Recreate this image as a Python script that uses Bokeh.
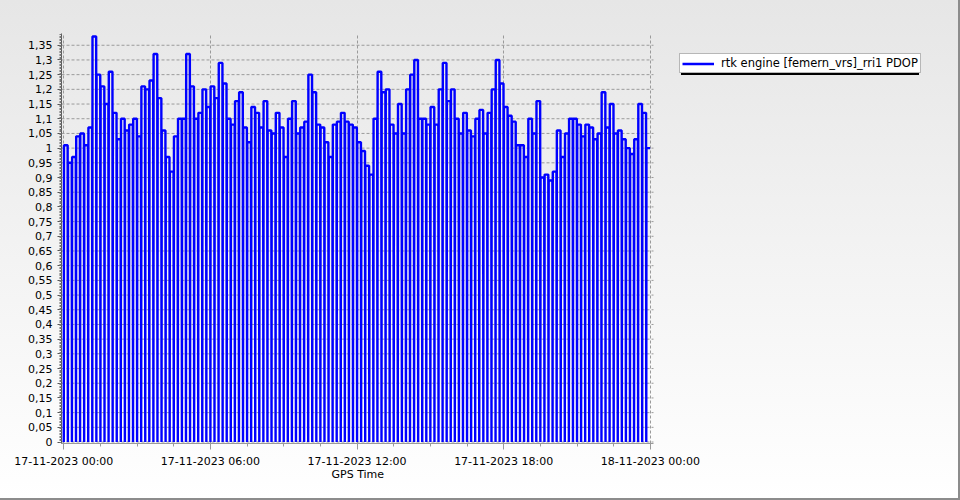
from bokeh.plotting import figure
from bokeh.models import FixedTicker, Range1d, Legend, LegendItem, ColumnDataSource, Title
from bokeh.embed import file_html
from bokeh.resources import INLINE

# ---- data ----
series_name = "rtk engine [femern_vrs]_rri1 PDOP"
segment_minutes = 10          # one drop-out (PDOP = 0) every 10 minutes
segment_pdop = [
    1.01, 0.95, 0.97, 1.04, 1.05, 1.01, 1.07, 1.38, 1.25, 1.21, 1.15, 1.26,
    1.12, 1.03, 1.10, 1.06, 1.08, 1.10, 1.04, 1.21, 1.20, 1.23, 1.32, 1.17,
    1.06, 0.97, 0.92, 1.04, 1.10, 1.10, 1.32, 1.21, 1.10, 1.12, 1.20, 1.14,
    1.21, 1.17, 1.29, 1.22, 1.10, 1.08, 1.16, 1.19, 1.07, 1.02, 1.14, 1.12,
    1.07, 1.16, 1.06, 1.05, 1.12, 1.07, 0.97, 1.10, 1.16, 1.05, 1.07, 1.09,
    1.25, 1.19, 1.08, 1.07, 1.02, 0.97, 1.08, 1.09, 1.12, 1.09, 1.08, 1.07,
    1.02, 0.99, 0.94, 0.91, 1.10, 1.26, 1.19, 1.20, 1.08, 1.05, 1.15, 1.05,
    1.20, 1.25, 1.30, 1.10, 1.10, 1.08, 1.14, 1.08, 1.20, 1.29, 1.16, 1.20,
    1.10, 1.05, 1.12, 1.06, 1.04, 1.10, 1.13, 1.05, 1.12, 1.20, 1.30, 1.22,
    1.14, 1.11, 1.09, 1.01, 1.01, 0.97, 1.10, 1.05, 1.16, 0.90, 0.91, 0.89,
    0.92, 1.06, 0.97, 1.05, 1.10, 1.10, 1.08, 1.04, 1.08, 1.07, 1.03, 1.05,
    1.19, 1.07, 1.15, 1.05, 1.06, 1.03, 1.00, 0.98, 1.03, 1.15, 1.12, 1.00,
]
x_tick_minutes = [0, 360, 720, 1080, 1440]
x_tick_labels = ["17-11-2023 00:00", "17-11-2023 06:00", "17-11-2023 12:00",
                 "17-11-2023 18:00", "18-11-2023 00:00"]
y_tick_values = [0.0, 0.05, 0.1, 0.15, 0.2, 0.25, 0.3, 0.35, 0.4, 0.45, 0.5,
                 0.55, 0.6, 0.65, 0.7, 0.75, 0.8, 0.85, 0.9, 0.95, 1.0, 1.05,
                 1.1, 1.15, 1.2, 1.25, 1.3, 1.35]
y_tick_labels = ["0", "0,05", "0,1", "0,15", "0,2", "0,25", "0,3", "0,35",
                 "0,4", "0,45", "0,5", "0,55", "0,6", "0,65", "0,7", "0,75",
                 "0,8", "0,85", "0,9", "0,95", "1", "1,05", "1,1", "1,15",
                 "1,2", "1,25", "1,3", "1,35"]
x_axis_title = "GPS Time"

# axis extent (minutes from 17-11-2023 00:00) and value extent
x_axis_start, x_axis_end = -5.6, 1447.8
y_axis_start, y_axis_end = -0.005, 1.39

# each 10-minute block: a 0 sample (drop-out), then the PDOP reading
xs, ys = [], []
for k, v in enumerate(segment_pdop):
    t0 = k * segment_minutes
    xs += [t0, t0 + 0.5, t0 + 9.5]
    ys += [0.0, v, v]
src = ColumnDataSource(dict(t=xs, pdop=ys))

grid_src = ColumnDataSource(dict(
    x0=[x_axis_start] * len(y_tick_values),
    x1=[x_axis_end] * len(y_tick_values),
    y=y_tick_values))

FONT = "DejaVu Sans"

# the frame is widened to the right so the legend (which sits right of the
# axes) is not clipped; the axis itself is bounded to the 24 h span
p = figure(width=960, height=500, output_backend="svg", toolbar_location=None,
           x_range=Range1d(x_axis_start, 2176.9),
           y_range=Range1d(y_axis_start, y_axis_end),
           min_border_left=61, min_border_right=10, min_border_top=33,
           min_border_bottom=57)
p.background_fill_alpha = 0
p.border_fill_alpha = 0
p.outline_line_color = None
p.styles = {
    "background": "linear-gradient(to bottom, #e6e6e6 0%, #ffffff 100%)",
    "box-shadow": "inset -2px -2px 0 0 #8c8c8c",
}

# horizontal dashed grid limited to the axis span
p.segment(x0="x0", x1="x1", y0="y", y1="y", source=grid_src,
          line_color="#9a9a9a", line_dash="3 2", line_width=1)

r = p.line("t", "pdop", source=src, line_color="#0000ff", line_width=2.4)

# axes
minor_x = [i * 90 for i in range(17)]
p.xaxis.bounds = (x_axis_start, x_axis_end)
p.xaxis.ticker = FixedTicker(ticks=x_tick_minutes, minor_ticks=minor_x)
p.xaxis.major_label_overrides = dict(zip(x_tick_minutes, x_tick_labels))
p.xaxis.major_label_text_font = FONT
p.xaxis.major_label_text_font_size = "11px"
p.xaxis.major_label_text_color = "#000000"
p.xaxis.major_label_standoff = 5
p.xaxis.axis_line_color = "#9a9a9a"
p.xaxis.major_tick_line_color = "#9a9a9a"
p.xaxis.minor_tick_line_color = "#9a9a9a"
p.xaxis.major_tick_out = 6
p.xaxis.major_tick_in = 0
p.xaxis.minor_tick_out = 3
p.xaxis.minor_tick_in = 0

# x axis title centred under the 24 h span
p.add_layout(Title(text=x_axis_title, align="left", offset=270, standoff=-9,
                   text_font=FONT, text_font_size="11px",
                   text_font_style="normal", text_color="#000000"), "below")

minor_y = [i * 0.005 for i in range(279)]
p.yaxis.ticker = FixedTicker(ticks=y_tick_values, minor_ticks=minor_y)
p.yaxis.major_label_overrides = dict(zip(y_tick_values, y_tick_labels))
p.yaxis.major_label_text_font = FONT
p.yaxis.major_label_text_font_size = "11px"
p.yaxis.major_label_text_color = "#000000"
p.yaxis.major_label_standoff = 5
p.yaxis.axis_line_color = "#555555"
p.yaxis.axis_line_width = 1
p.yaxis.major_tick_line_color = "#555555"
p.yaxis.minor_tick_line_color = "#777777"
p.yaxis.major_tick_out = 4
p.yaxis.major_tick_in = 0
p.yaxis.minor_tick_out = 2
p.yaxis.minor_tick_in = 0

p.ygrid.visible = False
p.xgrid.ticker = FixedTicker(ticks=x_tick_minutes)
p.xgrid.grid_line_color = "#9a9a9a"
p.xgrid.grid_line_dash = "3 2"
p.xgrid.grid_line_width = 1

# legend with a drop shadow (shadow = text-less box behind the legend)
dummy = p.line(x=[], y=[], line_alpha=0)
shadow = Legend(items=[LegendItem(label="", renderers=[dummy])],
                location=(620, 368), background_fill_color="#000000",
                background_fill_alpha=1, border_line_color="#000000",
                border_line_width=1, glyph_width=212, glyph_height=13,
                label_height=13, label_standoff=0, padding=2, spacing=0,
                margin=0, label_text_font_size="11.5px")
legend = Legend(items=[LegendItem(label=series_name, renderers=[r])],
                location=(618, 370), background_fill_color="#ffffff",
                background_fill_alpha=1, border_line_color="#707070",
                border_line_width=1, glyph_width=32, glyph_height=13,
                label_height=13, label_standoff=7, padding=2, spacing=0,
                margin=0, label_text_font=FONT, label_text_font_size="11.5px",
                label_text_color="#000000")
p.add_layout(shadow)
p.add_layout(legend)

open("out.html", "w").write(file_html(p, INLINE))
